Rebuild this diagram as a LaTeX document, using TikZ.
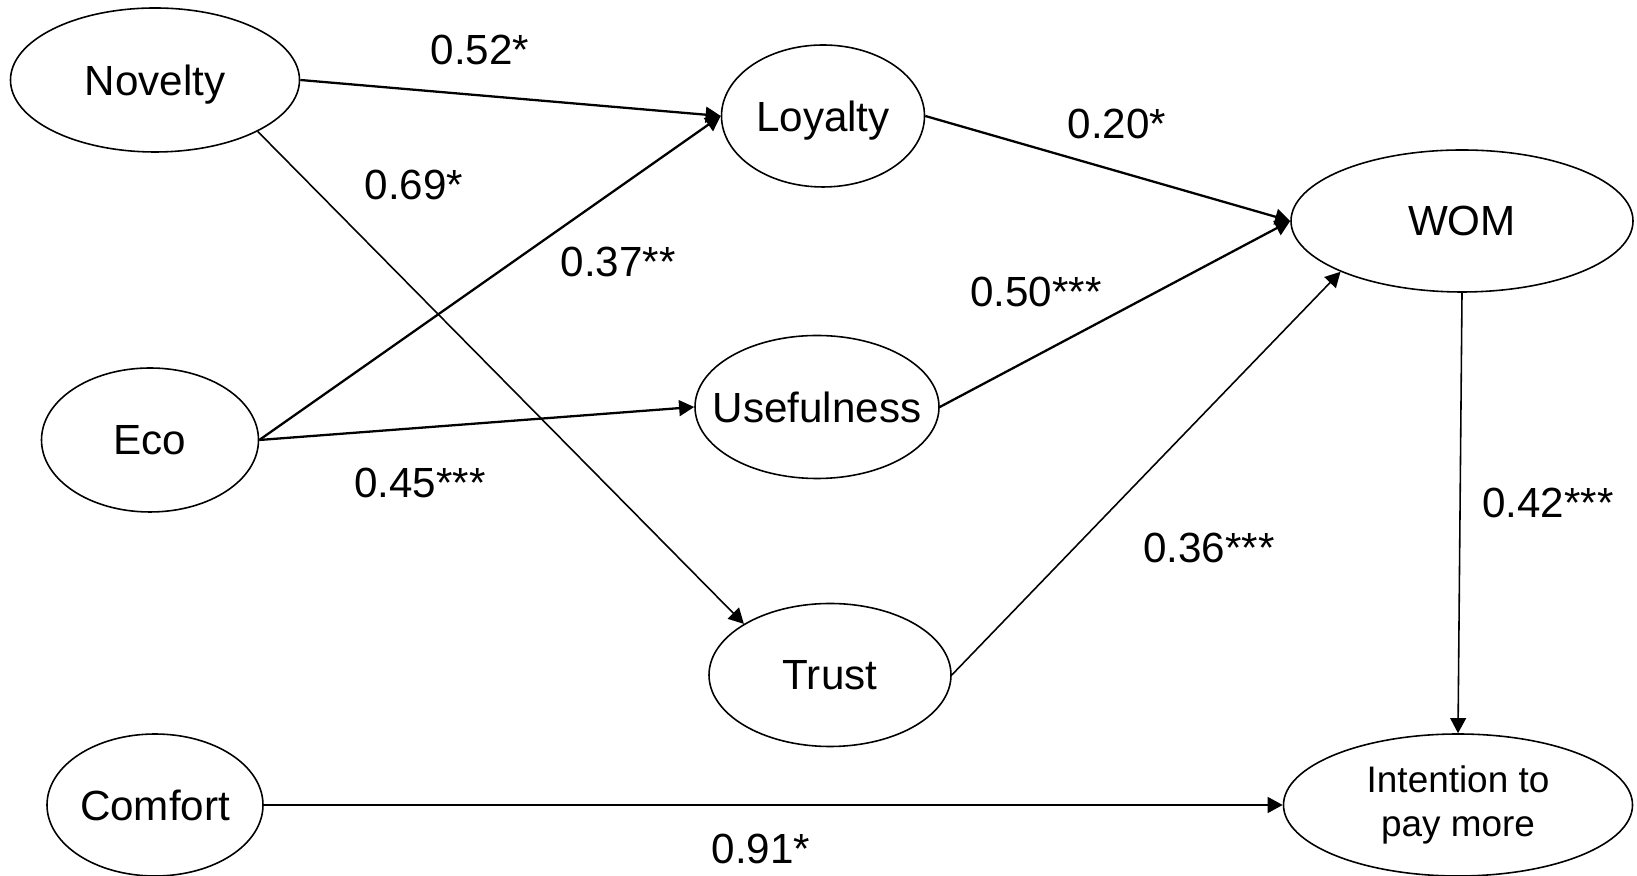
\documentclass[tikz,border=0pt]{standalone}
\usepackage{fontspec}
\setmainfont{Liberation Sans}
\usetikzlibrary{shapes.geometric, arrows.meta}

\begin{document}
\begin{tikzpicture}[
    every node/.style={font=\fontsize{12}{14}\selectfont, inner sep=0pt},
    var/.style={draw, ellipse, line width=0.45pt, text depth=0pt},
    arr/.style={-{Triangle[length=4.3pt,width=4.5pt]}, line width=0.65pt},
    thinarr/.style={arr, line width=0.45pt}]
    \useasboundingbox (0,0) rectangle (16.37,-8.76);
    % constructs
    \node[var, minimum width=2.89cm, minimum height=1.44cm] (nov) at (1.55,-0.80) {Novelty};
    \node[var, minimum width=2.17cm, minimum height=1.44cm] (eco) at (1.50,-4.40) {Eco};
    \node[var, minimum width=2.16cm, minimum height=1.42cm] (com) at (1.55,-8.05) {Comfort};
    \node[var, minimum width=2.03cm, minimum height=1.42cm] (loy) at (8.23,-1.16) {Loyalty};
    \node[var, minimum width=2.44cm, minimum height=1.43cm, inner xsep=-8pt] (use) at (8.17,-4.07) {Usefulness};
    \node[var, minimum width=2.42cm, minimum height=1.43cm] (tru) at (8.30,-6.75) {Trust};
    \node[var, minimum width=3.42cm, minimum height=1.42cm] (wom) at (14.62,-2.21) {WOM};
    \node[var, minimum width=3.49cm, minimum height=1.42cm, align=center, text depth=,
          font=\fontsize{10.5}{12.5}\selectfont] (int) at (14.58,-8.05) {Intention to\\pay more};
    % paths
    \draw[arr] (nov.east) -- (loy.west);
    \draw[thinarr] (nov.south east) -- (tru.north west);
    \draw[arr] (eco.east) -- (loy.west);
    \draw[arr] (eco.east) -- (use.west);
    \draw[arr] (loy.east) -- (wom.west);
    \draw[arr] (use.east) -- (wom.west);
    \draw[thinarr] (tru.east) -- (wom.south west);
    \draw[thinarr] (wom.south) -- (int.north);
    \draw[arr] (com.east) -- (int.west);
    % coefficients
    \foreach \n/\x/\y/\t in {c52/4.80/-0.65/0.52*, c69/4.14/-2.00/0.69*,
        c37/6.18/-2.77/0.37**, c45/4.20/-4.98/0.45***, c20/11.17/-1.39/0.20*,
        c50/10.36/-3.07/0.50***, c36/12.09/-5.63/0.36***, c42/15.48/-5.18/0.42***,
        c91/7.61/-8.64/0.91*} {
        \node[anchor=base] (\n) at (\x,\y) {\t};
    }
\end{tikzpicture}
\end{document}
